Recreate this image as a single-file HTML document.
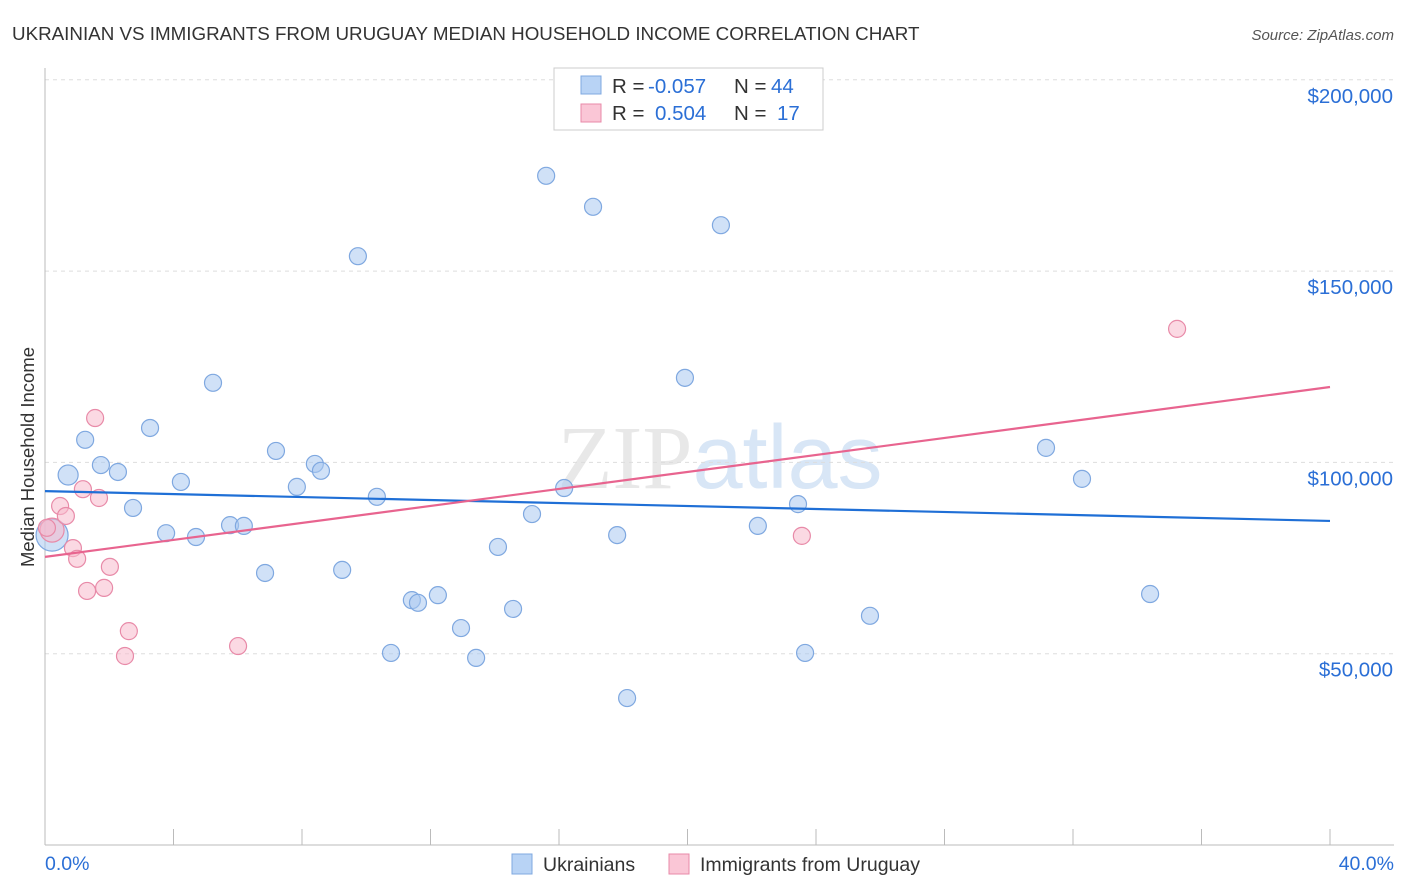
<!DOCTYPE html>
<html><head><meta charset="utf-8"><style>
body{margin:0;background:#fff;font-family:"Liberation Sans",sans-serif;}
svg{display:block}
</style></head><body>
<svg id="chart" width="1406" height="892" viewBox="0 0 1406 892">
<text x="12" y="40" font-size="18.8" fill="#333">UKRAINIAN VS IMMIGRANTS FROM URUGUAY MEDIAN HOUSEHOLD INCOME CORRELATION CHART</text>
<text x="1394" y="40" font-size="15" fill="#555" font-style="italic" text-anchor="end">Source: ZipAtlas.com</text>
<text x="720" y="488" font-size="90" fill="#e8e8e8" text-anchor="middle" font-family="Liberation Serif">ZIP<tspan fill="#d8e6f6" font-family="Liberation Sans">atlas</tspan></text>
<g id="grid"></g>
<g id="axes"></g>
<g id="marks"></g>
<text transform="translate(34,457) rotate(-90)" font-size="18.5" fill="#333" text-anchor="middle">Median Household Income</text>
<g>
<rect x="554" y="68" width="269" height="62" fill="#fff" stroke="#ccc"/>
<rect x="581" y="76" width="20" height="18" fill="#b8d3f5" stroke="#7fa8e0"/>
<rect x="581" y="104" width="20" height="18" fill="#fac6d6" stroke="#e88aa8"/>
<text x="612" y="93" font-size="20.5" fill="#333">R = <tspan x="648" fill="#2b6fd6">-0.057</tspan><tspan x="734">N = </tspan><tspan x="771" fill="#2b6fd6">44</tspan></text>
<text x="612" y="120" font-size="20.5" fill="#333">R = <tspan x="655" fill="#2b6fd6">0.504</tspan><tspan x="734">N = </tspan><tspan x="777" fill="#2b6fd6">17</tspan></text>
</g>
<g>
<rect x="512" y="854" width="20" height="20" fill="#b8d3f5" stroke="#7fa8e0"/>
<text x="543" y="871" font-size="19.5" fill="#333">Ukrainians</text>
<rect x="669" y="854" width="20" height="20" fill="#fac6d6" stroke="#e88aa8"/>
<text x="700" y="871" font-size="19.5" fill="#333">Immigrants from Uruguay</text>
</g>
</svg>
<script>
const blueX=[0.72,1.25,1.74,2.27,2.74,3.27,3.77,4.23,4.70,5.23,5.76,6.19,6.85,7.19,7.84,8.40,8.59,9.25,9.74,10.33,10.77,11.42,11.61,12.23,12.95,13.42,14.10,14.57,15.16,15.60,16.16,17.06,17.81,18.12,19.92,21.04,22.19,23.44,23.66,25.68,31.16,32.28,34.40,0.22];
const blueY=[96.7,105.9,99.3,97.5,88.1,109.0,81.5,94.9,80.5,120.8,83.6,83.4,71.1,103.0,93.6,99.6,97.8,71.9,153.9,91.0,50.2,64.0,63.3,65.3,56.7,48.9,77.9,61.7,86.5,174.9,93.3,166.8,81.0,38.4,122.1,162.0,83.4,89.1,50.2,59.9,103.8,95.7,65.6,81.0];
const pinkX=[0.22,0.47,0.65,0.87,1.00,1.18,1.31,1.56,1.68,1.84,2.02,2.49,2.61,6.01,23.56,35.24,0.06];
const pinkY=[82.3,88.6,86.0,77.6,74.8,93.0,66.4,111.6,90.7,67.2,72.7,49.4,55.9,52.0,80.8,134.9,82.9];
const blueTrend=[92.5,84.7];
const pinkTrend=[75.3,119.7];
const yTicks=[50,100,150,200];
const yTickLabels=["$50,000","$100,000","$150,000","$200,000"];
const xTicks=[0,4,8,12,16,20,24,28,32,36,40];

const NS="http://www.w3.org/2000/svg";
const sx=v=>45+v*32.125;
const sy=v=>845-v*3.826;
function mk(tag,attrs,parent){const e=document.createElementNS(NS,tag);for(const k in attrs)e.setAttribute(k,attrs[k]);parent.appendChild(e);return e;}
const grid=document.getElementById('grid'),axes=document.getElementById('axes'),marks=document.getElementById('marks');
yTicks.forEach((t,i)=>{
 const l=mk('line',{x1:45,x2:1394,y1:sy(t),y2:sy(t),stroke:'#ddd','stroke-dasharray':'4,4'},grid);
 
 
 const tx=mk('text',{x:1393,y:sy(t)+23,'font-size':20.5,fill:'#2b6fd6','text-anchor':'end'},axes);
 tx.textContent=yTickLabels[i];
 
 
});
mk('line',{x1:45,x2:45,y1:68,y2:845,stroke:'#bbb'},axes);
mk('line',{x1:45,x2:1394,y1:845,y2:845,stroke:'#bbb'},axes);
xTicks.forEach(t=>{const l=mk('line',{x1:sx(t),x2:sx(t),y1:829,y2:845,stroke:'#bbb'},axes);
 
 });
let a=mk('text',{x:45,y:870,'font-size':19.5,fill:'#2b6fd6'},axes);a.textContent=xTicks[0].toFixed(1)+'%';


let b=mk('text',{x:1394,y:870,'font-size':19.5,fill:'#2b6fd6','text-anchor':'end'},axes);b.textContent=xTicks[xTicks.length-1].toFixed(1)+'%';


blueX.forEach((x,i)=>{const big=i===blueX.length-1;const c=mk('circle',{cx:sx(x),cy:sy(blueY[i]),r:big?16:(i===0?10:8.5),fill:'rgba(169,200,240,0.55)',stroke:'#7fa8e0','stroke-width':1.2},marks);
 
 });
pinkX.forEach((x,i)=>{const c=mk('circle',{cx:sx(x),cy:sy(pinkY[i]),r:i===0?12:8.5,fill:'rgba(247,185,204,0.55)',stroke:'#e88aa8','stroke-width':1.2},marks);
 
 });
const bl=mk('line',{x1:sx(0),x2:sx(40),y1:sy(blueTrend[0]),y2:sy(blueTrend[1]),stroke:'#1f6fd6','stroke-width':2.2},marks);


const pl=mk('line',{x1:sx(0),x2:sx(40),y1:sy(pinkTrend[0]),y2:sy(pinkTrend[1]),stroke:'#e8648f','stroke-width':2.2},marks);


</script>
</body></html>
